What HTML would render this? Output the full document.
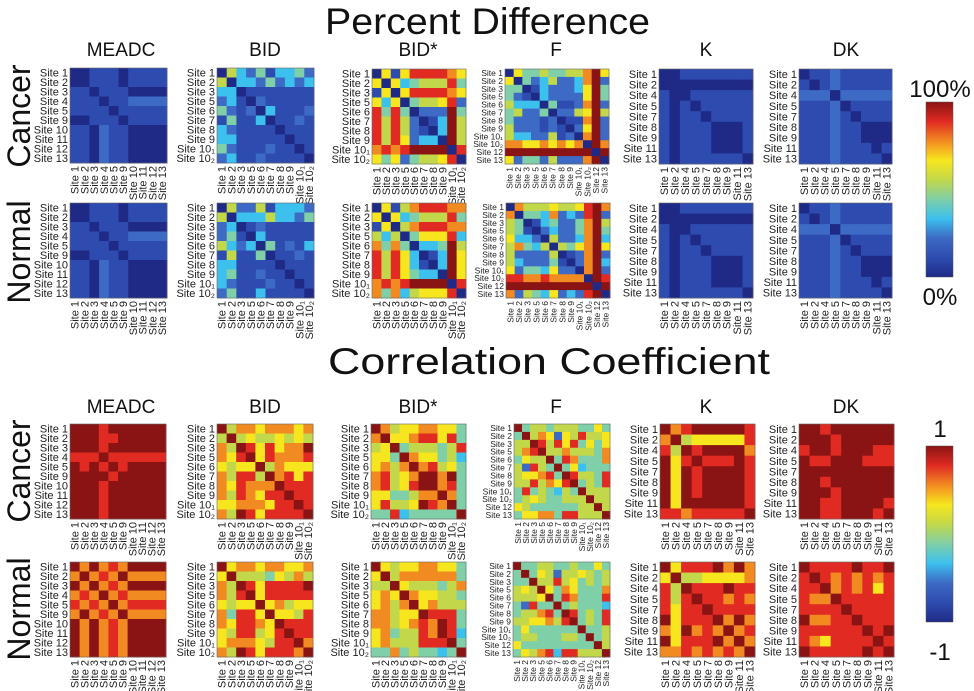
<!DOCTYPE html>
<html><head><meta charset="utf-8">
<style>
html,body{margin:0;padding:0;background:#fff;}
svg{display:block;font-family:"Liberation Sans",sans-serif;}
</style></head>
<body>
<svg id="fig" width="974" height="691" viewBox="0 0 974 691" xmlns="http://www.w3.org/2000/svg">
<defs>
<linearGradient id="cbar" x1="0" y1="1" x2="0" y2="0">
<stop offset="0" stop-color="#1f2a86"/><stop offset="0.111" stop-color="#2e4cb0"/><stop offset="0.222" stop-color="#3d6ac4"/>
<stop offset="0.333" stop-color="#3cc0ee"/><stop offset="0.444" stop-color="#7fcfa8"/><stop offset="0.556" stop-color="#c2d84a"/>
<stop offset="0.667" stop-color="#f7e61e"/><stop offset="0.778" stop-color="#f28a22"/><stop offset="0.889" stop-color="#e02a22"/>
<stop offset="1" stop-color="#8a1414"/>
</linearGradient>
</defs>
<text x="325" y="34" font-size="37" textLength="325" lengthAdjust="spacingAndGlyphs" fill="#111">Percent Difference</text>
<text x="328" y="374" font-size="37" textLength="442" lengthAdjust="spacingAndGlyphs" fill="#111">Correlation Coefficient</text>
<text transform="translate(30,116) rotate(-90)" font-size="32" text-anchor="middle" fill="#111">Cancer</text>
<text transform="translate(30,252) rotate(-90)" font-size="32" text-anchor="middle" fill="#111">Normal</text>
<text transform="translate(30,471) rotate(-90)" font-size="32" text-anchor="middle" fill="#111">Cancer</text>
<text transform="translate(30,609) rotate(-90)" font-size="32" text-anchor="middle" fill="#111">Normal</text>
<rect x="926" y="102" width="27" height="175" fill="url(#cbar)" stroke="#555" stroke-width="0.5"/>
<text x="940" y="97" font-size="24" text-anchor="middle" fill="#111">100%</text>
<text x="940" y="305" font-size="24" text-anchor="middle" fill="#111">0%</text>
<rect x="926" y="446" width="27" height="176" fill="url(#cbar)" stroke="#555" stroke-width="0.5"/>
<text x="940" y="437" font-size="24" text-anchor="middle" fill="#111">1</text>
<text x="940" y="660" font-size="24" text-anchor="middle" fill="#111">-1</text>
<g id="panels"></g>
</svg>
<script>
// ---- data: each row string holds one heatmap row, digit d = level d/9 on the colour scale
const sitesA = ["Site 1","Site 2","Site 3","Site 4","Site 5","Site 9","Site 10","Site 11","Site 12","Site 13"];
const sitesB = ["Site 1","Site 2","Site 3","Site 5","Site 6","Site 7","Site 8","Site 9","Site 10\u2081","Site 10\u2082"];
const sitesF = ["Site 1","Site 2","Site 3","Site 5","Site 6","Site 7","Site 8","Site 9","Site 10\u2081","Site 10\u2082","Site 12","Site 13"];
const sitesK = ["Site 1","Site 2","Site 4","Site 5","Site 7","Site 8","Site 9","Site 11","Site 13"];
const methods = ["MEADC","BID","BID*","F","K","DK"];

const pdCancerMEADC = ["0011101111","0011101111","1101110000","1110112222","1111011111","0011101111","1102110000","1102110000","1102110000","1102110000"];
const pdNormalMEADC = ["0011101111","0011101111","1101110000","1110112222","1111011111","0011101111","1102110000","1102110000","1102110000","1102110000"];
const pdCancerBID = ["0532413342","5033242323","3301111111","2310211111","4212031112","1411301121","3211110111","3311111011","4211121101","2311211110"];
const pdNormalBID = ["0522513332","5033353324","2301211111","2410311111","5323041213","1511401121","3311110111","3411211011","3211121101","2411311110"];
const pdCancerBIDs = ["0616888876","6063455584","1606888876","6360455682","8484022294","8585201395","8585210395","8586233095","7878999908","6462455680"];
const pdNormalBIDs = ["0615788877","6063455584","1605788877","5350466683","7474033495","8586301396","8586310396","8586433096","7878999908","7473566680"];
const pdCancerF = ["064454455796","604235223792","440132223694","421032222694","533304112792","452240225695","422212011792","522212102692","533225120792","776676767097","999999999909","624425222790"];
const pdNormalF = ["075556556897","704437232892","540134224795","541023224794","633205223793","574350546796","522225012792","532224102793","624436220792","887787777098","999999999909","725436232890"];
const pdCancerK = ["001111111","000000000","100111111","101011111","101101111","101110001","101110001","101110001","101111110"];
const pdNormalK = ["001111111","000000000","100111111","101011111","101101111","101110001","101110001","101110001","101111110"];
const pdCancerDK = ["011211111","101211111","222022222","111201111","111210111","111211000","111211000","111211101","111211110"];
const pdNormalDK = ["011211111","101211111","222022222","111201111","111210111","111211000","111211000","111211101","111211110"];
const ccCancerMEADC = ["9998999999","9998899999","9998999999","8889888888","9898989999","9999899999","9998999999","9998999999","9998999999","9998999999"];
const ccNormalMEADC = ["9797879999","7978797777","9797879999","7879787777","8787978888","7978797777","9797879999","9797879999","9797879999","9797879999"];
const ccCancerBID = ["9577677767","5956556565","7598686779","7689687778","6566957666","7588597868","7687779888","7587688988","6677768898","7598688889"];
const ccNormalBID = ["9677677667","6955546575","7598688889","7589688888","6566967566","7488696658","7688769888","6588568988","6777658897","7598688879"];
const ccCancerBIDs = ["9756677664","7966788684","5694555458","6649766453","6757978564","7856799794","7856899784","6644577974","6855698794","4483444449"];
const ccNormalBIDs = ["9656677664","6957777774","5596555457","6769766554","6757967555","7756698884","7756787984","6745587983","6755588894","4474544349"];
const ccCancerF = ["945545554464","495762658556","559858684646","578955755547","465594874447","528549463444","566784985548","558576894548","484543549555","456544555955","654444445595","466774885559"];
const ccNormalF = ["944554454464","494652556545","449558564545","565964764447","555694874448","428449454443","455784984548","556675894548","464444449445","455444554945","644444444495","465783885559"];
const ccCancerK = ["978999998","795666668","859899997","968988898","969899998","969899998","969899998","969999998","887888889"];
const ccNormalK = ["968889797","695566667","859888988","858988787","868898888","968889797","769787978","968889797","778787879"];
const ccCancerDK = ["998999999","999899999","899899988","988999888","999999999","998999999","999899999","998899998","998899989"];
const ccNormalDK = ["988889889","898787878","889787868","877988888","888898888","977889888","888888989","876888898","988888989"];

// ---- layout
const stops = ["#1f2a86","#2e4cb0","#3d6ac4","#3cc0ee","#7fcfa8","#c2d84a","#f7e61e","#f28a22","#e02a22","#8a1414"];
function hex(c){return [1,3,5].map(i=>parseInt(c.substr(i,2),16));}
function colorScale(t){
  t=Math.max(0,Math.min(1,t))*9; const i=Math.min(8,Math.floor(t)), f=t-i;
  const a=hex(stops[i]), b=hex(stops[i+1]);
  return "rgb("+a.map((v,k)=>Math.round(v+(b[k]-v)*f)).join(",")+")";
}
const NS="http://www.w3.org/2000/svg";
const root=document.getElementById("panels");
function mk(tag,attrs,parent){const e=document.createElementNS(NS,tag);for(const k in attrs)e.setAttribute(k,attrs[k]);parent.appendChild(e);return e;}

const pdX=[70,217,372,505,659,799], ccX=[70,217,371,514,660,799];
const pdW=[97,97,94,104,94,93];
const panels=[
 [pdCancerMEADC,sitesA,pdX[0],68,pdW[0],"pd-cancer-meadc"],[pdCancerBID,sitesB,pdX[1],68,pdW[1],"pd-cancer-bid"],
 [pdCancerBIDs,sitesB,pdX[2],69,pdW[2],"pd-cancer-bidstar"],[pdCancerF,sitesF,pdX[3],69,pdW[3],"pd-cancer-f"],
 [pdCancerK,sitesK,pdX[4],69,pdW[4],"pd-cancer-k"],[pdCancerDK,sitesK,pdX[5],69,pdW[5],"pd-cancer-dk"],
 [pdNormalMEADC,sitesA,pdX[0],203,pdW[0],"pd-normal-meadc"],[pdNormalBID,sitesB,pdX[1],203,pdW[1],"pd-normal-bid"],
 [pdNormalBIDs,sitesB,pdX[2],203,pdW[2],"pd-normal-bidstar"],[pdNormalF,sitesF,pdX[3]+1,203,pdW[3],"pd-normal-f"],
 [pdNormalK,sitesK,pdX[4],203,pdW[4],"pd-normal-k"],[pdNormalDK,sitesK,pdX[5],203,pdW[5],"pd-normal-dk"],
 [ccCancerMEADC,sitesA,ccX[0],424,96,"cc-cancer-meadc"],[ccCancerBID,sitesB,ccX[1],424,96,"cc-cancer-bid"],
 [ccCancerBIDs,sitesB,ccX[2],424,95,"cc-cancer-bidstar"],[ccCancerF,sitesF,ccX[3],424,96,"cc-cancer-f"],
 [ccCancerK,sitesK,ccX[4],424,95,"cc-cancer-k"],[ccCancerDK,sitesK,ccX[5],424,95,"cc-cancer-dk"],
 [ccNormalMEADC,sitesA,ccX[0],562,96,"cc-normal-meadc"],[ccNormalBID,sitesB,ccX[1],562,96,"cc-normal-bid"],
 [ccNormalBIDs,sitesB,ccX[2],562,95,"cc-normal-bidstar"],[ccNormalF,sitesF,ccX[3]-1,562,97,"cc-normal-f"],
 [ccNormalK,sitesK,ccX[4],562,95,"cc-normal-k"],[ccNormalDK,sitesK,ccX[5],562,95,"cc-normal-dk"]
];
const colTitleX=[121,265,418,556,706,846];
methods.forEach((m,i)=>{
  [50,407].forEach((y,j)=>{
    const t=mk("text",{x:colTitleX[i],y:y+6,"font-size":19,"text-anchor":"middle",fill:"#111"},root);
    
    
    t.textContent=m;
  });
});
panels.forEach(p=>{
  const [mat,labels,x0,y0,w,name]=p;
  const n=mat.length, h=95, cw=w/n, ch=h/n;
  const fs = n>10 ? 8.5 : 11;
  const g=mk("g",{},root);
  
  
  for(let r=0;r<n;r++)for(let c=0;c<n;c++){
    const v=parseInt(mat[r][c])/9;
    const cell=mk("rect",{x:x0+c*cw,y:y0+r*ch,width:cw+0.4,height:ch+0.4,fill:colorScale(v)},g);
    
    
  }
  mk("rect",{x:x0,y:y0,width:w,height:h,fill:"none",stroke:"#666","stroke-width":0.6},g);
  labels.forEach((lb,i)=>{
    const t=mk("text",{x:x0-2,y:y0+(i+0.5)*ch+fs*0.35,"font-size":fs,"text-anchor":"end",fill:"#222"},g);
    
    
    t.textContent=lb;
    const tx=x0+(i+0.5)*cw+fs*0.35, ty=y0+h+3;
    const u=mk("text",{transform:"translate("+tx+","+ty+") rotate(-90)","font-size":fs,"text-anchor":"end",fill:"#222"},g);
    
    
    u.textContent=lb;
  });
});
</script>
</body></html>
